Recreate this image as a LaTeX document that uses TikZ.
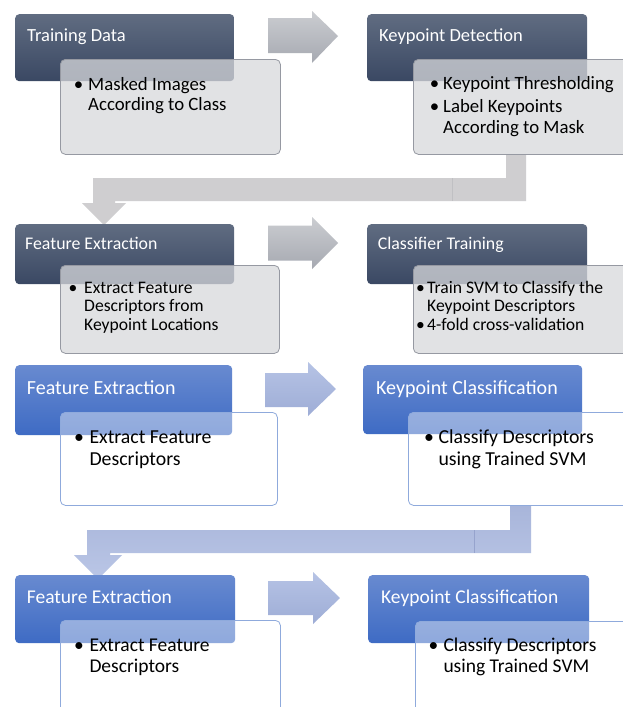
\documentclass[tikz,border=0pt]{standalone}
\usepackage{fontspec}
\setmainfont{Carlito}
\definecolor{dtop}{RGB}{96,108,129}
\definecolor{dbot}{RGB}{58,72,99}
\definecolor{lfill}{RGB}{216,217,220}
\definecolor{lborder}{RGB}{150,153,162}
\definecolor{btop}{RGB}{104,138,208}
\definecolor{bbot}{RGB}{62,107,196}
\definecolor{wborder}{RGB}{143,170,220}
\definecolor{gatop}{RGB}{203,205,209}
\definecolor{gabot}{RGB}{166,169,177}
\definecolor{batop}{RGB}{182,195,229}
\definecolor{babot}{RGB}{158,173,214}
\definecolor{bentgray}{RGB}{207,206,208}
\definecolor{bentseam}{RGB}{192,192,195}
\definecolor{bbtop}{RGB}{168,181,218}
\definecolor{bbbot}{RGB}{186,198,230}
\definecolor{bbseam}{RGB}{150,163,205}
\tikzset{
  darkbox/.style={rounded corners=4pt, top color=dtop, bottom color=dbot, draw=none, inner sep=0pt, anchor=north west},
  graybox/.style={rounded corners=5pt, fill=lfill, fill opacity=0.75, draw=lborder, line width=0.8pt, inner sep=0pt, anchor=north west},
  bluebox/.style={rounded corners=4pt, top color=btop, bottom color=bbot, draw=none, inner sep=0pt, anchor=north west},
  whitebox/.style={rounded corners=5pt, fill=white, fill opacity=0.42, draw=wborder, line width=0.8pt, inner sep=0pt, anchor=north west},
  ttl/.style={text=white, inner sep=0pt, anchor=base west, font=\fontsize{#1}{#1}\selectfont},
  bul/.style={text=black, inner sep=0pt, anchor=base, font=\fontsize{#1}{#1}\selectfont},
  txt/.style={text=black, inner sep=0pt, anchor=base west, font=\fontsize{#1}{#1}\selectfont},
  grayarrow/.style={top color=gatop, bottom color=gabot, draw=none},
  bluearrow/.style={top color=batop, bottom color=babot, draw=none},
}
\begin{document}
\begin{tikzpicture}[x=1pt,y=-1pt]
\clip (0,0) rectangle (623,707);
\fill[white] (0,0) rectangle (623,707);

% ---------- block arrows (drawn first, boxes cover their ends) ----------
\shade[grayarrow] (268,18) -- (312,18) -- (312,11) -- (338,36) -- (312,63) -- (312,53) -- (268,53) -- cycle;
\shade[grayarrow] (268,225.5) -- (312,225.5) -- (312,217) -- (338,243) -- (312,269) -- (312,260.5) -- (268,260.5) -- cycle;
\shade[bluearrow] (265,373) -- (308,373) -- (308,362) -- (336,389) -- (308,416) -- (308,407) -- (265,407) -- cycle;
\shade[bluearrow] (268,581) -- (313,581) -- (313,572) -- (340,598) -- (313,624) -- (313,615) -- (268,615) -- cycle;

% bent arrow 1 (gray)
\fill[bentgray] (506,154) -- (526,154) -- (526,201) -- (115,201) -- (115,203) -- (126,203) -- (104,225)
  -- (82,203) -- (93,203) -- (93,178) -- (506,178) -- cycle;
\draw[bentseam, line width=0.5pt] (452,178) -- (452,201);

% bent arrow 2 (blue)
\shade[top color=bbtop, bottom color=bbbot] (510,505) -- (531,505) -- (531,553) -- (110,553) -- (110,555) -- (122,555)
  -- (98,579) -- (74,555) -- (87,555) -- (87,530) -- (510,530) -- cycle;
\draw[bbseam, line width=0.5pt] (474,530) -- (474,553);

% ---------- section 1 ----------
\node[darkbox, minimum width=219pt, minimum height=67pt] (td) at (15,14) {};
\node[graybox, minimum width=220pt, minimum height=95pt] (tdl) at (60,59) {};
\node[ttl=18.5] (tdt) at (27,41) {Training Data};
\node[bul=18.8] (tdb1) at (78.5,90) {•};
\node[txt=18.8] (tdx1) at (88,90) {Masked Images};
\node[txt=18.8] (tdx2) at (88,110) {According to Class};

\node[darkbox, minimum width=220pt, minimum height=67pt] (kd) at (367,14) {};
\node[graybox, minimum width=230pt, minimum height=95pt] (kdl) at (413,59) {};
\node[ttl=18.5] (kdt) at (379,41) {Keypoint Detection};
\node[bul=18.8] (kdb1) at (434.5,89.5) {•};
\node[txt=18.8] (kdx1) at (443,89.5) {Keypoint Thresholding};
\node[bul=18.8] (kdb2) at (434.5,112.5) {•};
\node[txt=18.8] (kdx2) at (443,112.5) {Label Keypoints};
\node[txt=18.8] (kdx3) at (443,133) {According to Mask};

% ---------- section 2 ----------
\node[darkbox, minimum width=219pt, minimum height=60pt] (fe1) at (15,224) {};
\node[graybox, minimum width=219pt, minimum height=88pt] (fe1l) at (60,265) {};
\node[ttl=17.8] (fe1t) at (25,249.3) {Feature Extraction};
\node[bul=17.6] (fe1b1) at (73,293.3) {•};
\node[txt=17.6] (fe1x1) at (84,293.3) {Extract Feature};
\node[txt=17.6] (fe1x2) at (84,311.7) {Descriptors from};
\node[txt=17.6] (fe1x3) at (84,330) {Keypoint Locations};

\node[darkbox, minimum width=220pt, minimum height=60pt] (ct) at (367,224) {};
\node[graybox, minimum width=230pt, minimum height=88pt] (ctl) at (413,265) {};
\node[ttl=17.8] (ctt) at (377.7,249.3) {Classifier Training};
\node[bul=17.6] (ctb1) at (420.5,293) {•};
\node[txt=17.6] (ctx1) at (427,293) {Train SVM to Classify the};
\node[txt=17.6] (ctx2) at (427,311) {Keypoint Descriptors};
\node[bul=17.6] (ctb2) at (420.5,330) {•};
\node[txt=17.6] (ctx3) at (427,330) {4-fold cross-validation};

% ---------- section 3 ----------
\node[bluebox, minimum width=217pt, minimum height=70pt] (fe2) at (15,365) {};
\node[whitebox, minimum width=217pt, minimum height=93pt] (fe2l) at (60,412) {};
\node[ttl=20] (fe2t) at (26.7,394.3) {Feature Extraction};
\node[bul=19.8] (fe2b1) at (79,443.3) {•};
\node[txt=19.8] (fe2x1) at (89.3,443.3) {Extract Feature};
\node[txt=19.8] (fe2x2) at (89.3,465.7) {Descriptors};

\node[bluebox, minimum width=219pt, minimum height=69pt] (kc1) at (363,365) {};
\node[whitebox, minimum width=230pt, minimum height=93pt] (kc1l) at (408,412) {};
\node[ttl=20] (kc1t) at (376,394.3) {Keypoint Classification};
\node[bul=19.8] (kc1b1) at (429,443.3) {•};
\node[txt=19.8] (kc1x1) at (438.3,443.3) {Classify Descriptors};
\node[txt=19.8] (kc1x2) at (438.3,465.7) {using Trained SVM};

% ---------- section 4 ----------
\node[bluebox, minimum width=220pt, minimum height=68pt] (fe3) at (15,575) {};
\node[whitebox, minimum width=220pt, minimum height=110pt] (fe3l) at (60,620) {};
\node[ttl=19.5] (fe3t) at (26.7,603.3) {Feature Extraction};
\node[bul=19.5] (fe3b1) at (79,651.7) {•};
\node[txt=19.5] (fe3x1) at (89.3,651.7) {Extract Feature};
\node[txt=19.5] (fe3x2) at (89.3,672.7) {Descriptors};

\node[bluebox, minimum width=221pt, minimum height=68pt] (kc2) at (368,575) {};
\node[whitebox, minimum width=230pt, minimum height=110pt] (kc2l) at (415,621) {};
\node[ttl=19.5] (kc2t) at (381,603.3) {Keypoint Classification};
\node[bul=19.5] (kc2b1) at (433.5,651.7) {•};
\node[txt=19.5] (kc2x1) at (443.3,651.7) {Classify Descriptors};
\node[txt=19.5] (kc2x2) at (443.3,672.7) {using Trained SVM};
\end{tikzpicture}
\end{document}
